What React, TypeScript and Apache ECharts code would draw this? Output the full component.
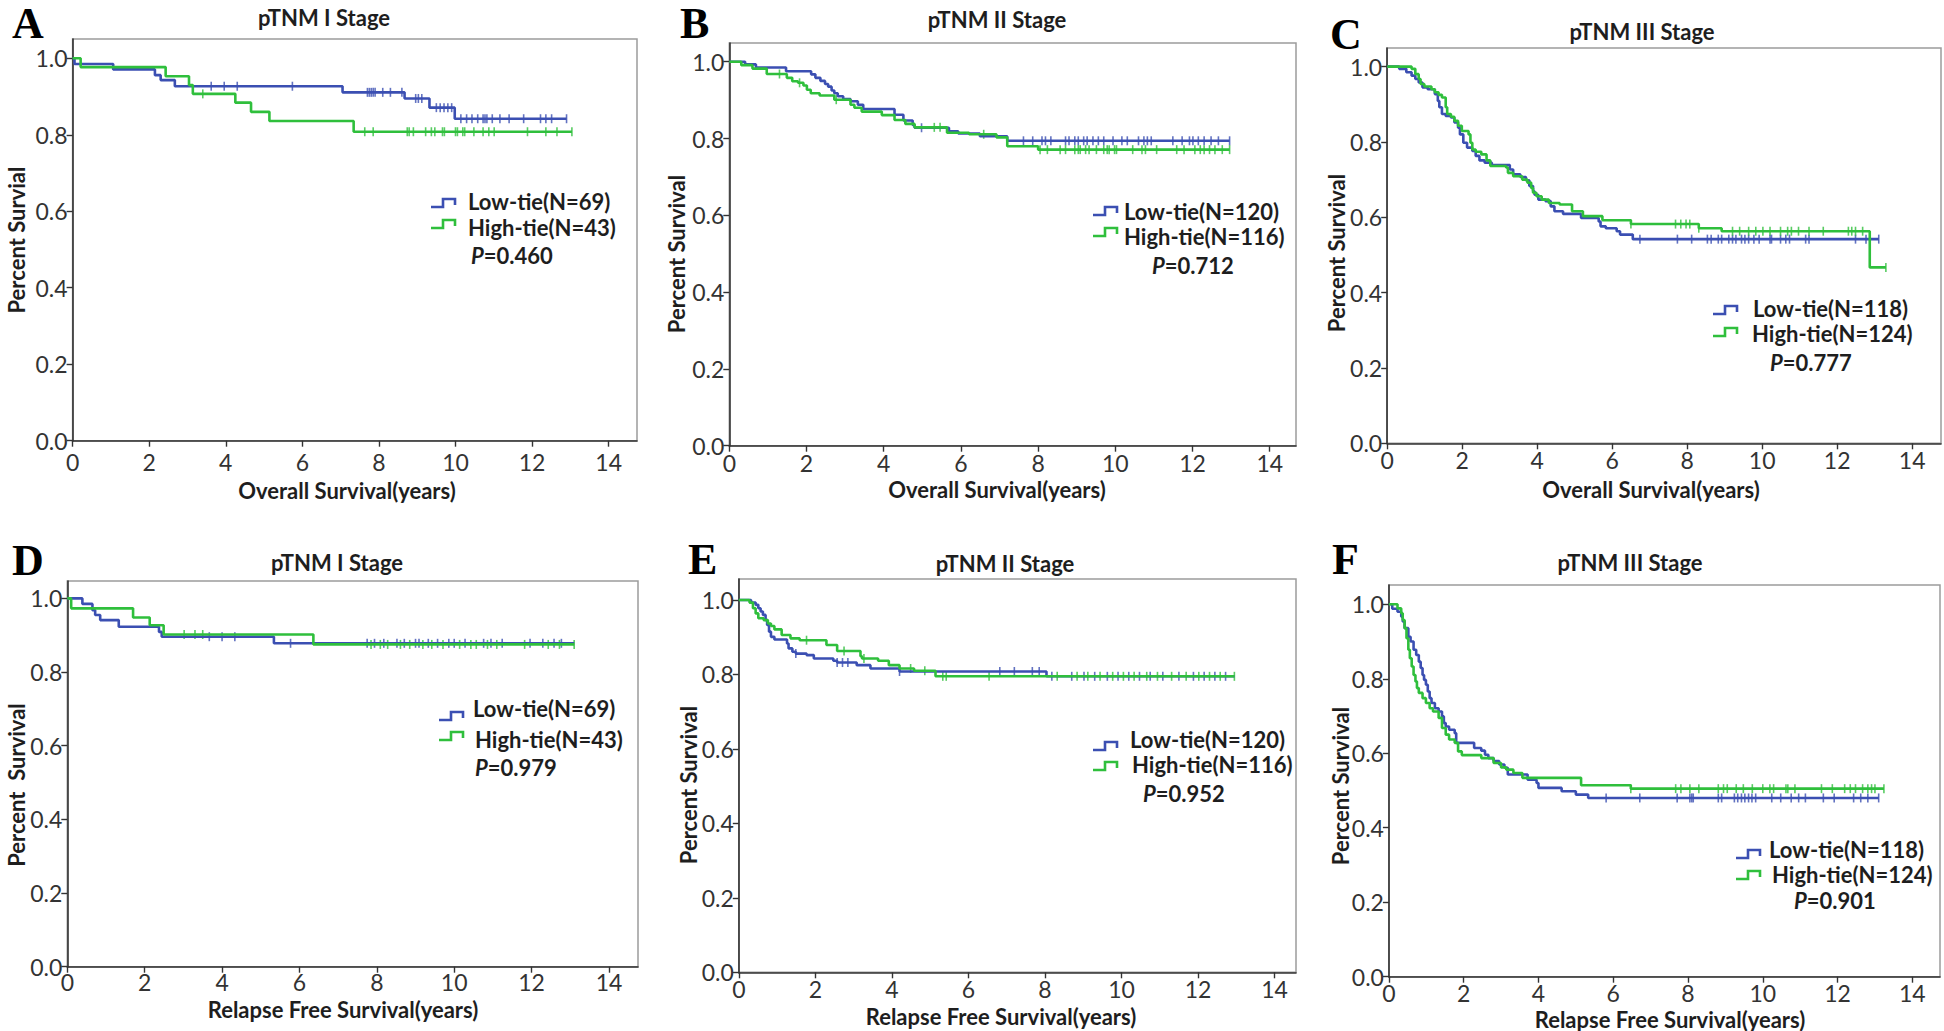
import React, { useEffect, useRef } from 'react';
import * as echarts from 'echarts';

// ---------- tick labels ----------
const xTicks = [0, 2, 4, 6, 8, 10, 12, 14];
const yTicks = [0, 0.2, 0.4, 0.6, 0.8, 1.0];

// ---------- texts ----------
const panelLetters = ['A', 'B', 'C', 'D', 'E', 'F'];
const panelTitles = ['pTNM I Stage', 'pTNM II Stage', 'pTNM III Stage', 'pTNM I Stage', 'pTNM II Stage', 'pTNM III Stage'];
const xTitles = ['Overall Survival(years)', 'Overall Survival(years)', 'Overall Survival(years)', 'Relapse Free Survival(years)', 'Relapse Free Survival(years)', 'Relapse Free Survival(years)'];
const yTitles = ['Percent Survial', 'Percent Survival', 'Percent Survival', 'Percent  Survival', 'Percent Survival', 'Percent Survival'];
const lowLabels = ['Low-tie(N=69)', 'Low-tie(N=120)', 'Low-tie(N=118)', 'Low-tie(N=69)', 'Low-tie(N=120)', 'Low-tie(N=118)'];
const highLabels = ['High-tie(N=43)', 'High-tie(N=116)', 'High-tie(N=124)', 'High-tie(N=43)', 'High-tie(N=116)', 'High-tie(N=124)'];
const pValues = ['0.460', '0.712', '0.777', '0.979', '0.952', '0.901'];

// ---------- Panel A ----------
const aLowT = [0, 0.05, 1.06, 2.15, 2.3, 2.67, 7.05, 8.67, 9.32, 9.98, 12.9];
const aLowS = [1, 0.985, 0.971, 0.956, 0.943, 0.927, 0.911, 0.895, 0.871, 0.842, 0.842];
const aLowC = [3.62, 3.96, 4.3, 5.74, 7.7, 7.75, 7.8, 7.85, 7.9, 8.1, 8.3, 8.6, 8.96, 9.03, 9.12, 9.5, 9.6, 9.7, 9.8, 9.9, 10.14, 10.29, 10.43, 10.58, 10.72, 10.77, 10.82, 10.96, 11.16, 11.4, 11.78, 12.22, 12.36, 12.51, 12.9];
const aHighT = [0, 0.21, 2.43, 3.04, 3.14, 4.25, 4.66, 5.14, 7.34, 13.04];
const aHighS = [1, 0.977, 0.953, 0.93, 0.907, 0.884, 0.86, 0.836, 0.808, 0.808];
const aHighC = [3.4, 7.63, 7.85, 8.74, 8.79, 8.9, 9.22, 9.37, 9.46, 9.66, 9.71, 10.0, 10.05, 10.19, 10.24, 10.48, 10.72, 10.87, 11.01, 11.88, 12.36, 12.65, 13.04];

// ---------- Panel B ----------
const bLowT = [0, 0.41, 0.69, 1.47, 2.12, 2.23, 2.36, 2.48, 2.56, 2.65, 2.72, 2.81, 2.95, 3.14, 3.33, 3.47, 4.28, 4.51, 4.75, 4.8, 5.69, 5.93, 6.49, 7.2, 12.96];
const bLowS = [1, 0.993, 0.985, 0.975, 0.967, 0.958, 0.95, 0.942, 0.935, 0.925, 0.918, 0.91, 0.903, 0.897, 0.888, 0.877, 0.862, 0.847, 0.835, 0.828, 0.819, 0.813, 0.806, 0.794, 0.794];
const bLowC = [4.98, 7.62, 7.86, 8.1, 8.19, 8.33, 8.71, 8.8, 8.95, 9.04, 9.18, 9.27, 9.42, 9.56, 9.7, 9.94, 10.17, 10.31, 10.6, 10.74, 10.83, 10.93, 11.49, 11.73, 11.92, 12.01, 12.15, 12.3, 12.48, 12.67, 12.96];
const bHighT = [0, 0.31, 0.6, 0.97, 1.49, 1.63, 1.78, 1.92, 2.01, 2.11, 2.34, 2.72, 3.14, 3.24, 3.43, 3.95, 4.28, 4.56, 4.8, 5.64, 6.21, 6.92, 7.2, 8.0, 12.96];
const bHighS = [1, 0.991, 0.982, 0.968, 0.958, 0.949, 0.945, 0.938, 0.927, 0.918, 0.912, 0.901, 0.888, 0.88, 0.87, 0.861, 0.848, 0.838, 0.829, 0.815, 0.811, 0.803, 0.78, 0.771, 0.771];
const bHighC = [1.3, 1.82, 2.77, 5.31, 5.46, 6.59, 8.05, 8.24, 8.57, 8.71, 8.95, 9.04, 9.09, 9.23, 9.32, 9.51, 9.7, 9.79, 9.84, 9.98, 10.03, 10.45, 10.69, 10.78, 11.07, 11.59, 11.78, 12.06, 12.2, 12.3, 12.44, 12.58, 12.77, 12.96];

// ---------- Panel C ----------
const cLowT = [0, 0.32, 0.51, 0.65, 0.75, 0.84, 0.94, 1.08, 1.27, 1.35, 1.39, 1.46, 1.56, 1.7, 1.79, 1.89, 1.94, 2.03, 2.13, 2.27, 2.36, 2.46, 2.6, 2.79, 3.27, 3.36, 3.55, 3.7, 3.79, 3.89, 3.93, 4.03, 4.22, 4.36, 4.46, 4.69, 5.17, 5.64, 5.69, 5.83, 6.12, 6.21, 6.55, 13.11];
const cLowS = [1, 0.994, 0.985, 0.976, 0.967, 0.958, 0.945, 0.94, 0.927, 0.909, 0.892, 0.874, 0.869, 0.865, 0.852, 0.838, 0.82, 0.798, 0.785, 0.776, 0.763, 0.751, 0.745, 0.739, 0.727, 0.714, 0.707, 0.698, 0.683, 0.669, 0.66, 0.647, 0.643, 0.629, 0.616, 0.609, 0.598, 0.589, 0.576, 0.571, 0.563, 0.554, 0.542, 0.542];
const cLowC = [6.74, 7.74, 8.12, 8.54, 8.64, 8.83, 8.92, 9.11, 9.21, 9.3, 9.45, 9.54, 9.64, 9.78, 9.92, 10.21, 10.25, 10.49, 10.63, 10.73, 11.16, 11.25, 12.49, 12.77, 13.11];
const cHighT = [0, 0.65, 0.75, 0.84, 0.89, 0.99, 1.18, 1.27, 1.37, 1.46, 1.56, 1.6, 1.7, 1.79, 1.89, 1.99, 2.17, 2.22, 2.27, 2.36, 2.51, 2.65, 2.75, 3.17, 3.22, 3.36, 3.6, 3.74, 3.84, 3.89, 3.98, 4.12, 4.31, 4.6, 4.93, 5.22, 5.74, 6.5, 8.31, 8.92, 12.87, 13.3];
const cHighS = [1, 0.994, 0.98, 0.967, 0.954, 0.947, 0.94, 0.932, 0.925, 0.918, 0.892, 0.874, 0.867, 0.856, 0.843, 0.829, 0.82, 0.798, 0.78, 0.774, 0.767, 0.751, 0.736, 0.732, 0.718, 0.709, 0.7, 0.692, 0.678, 0.665, 0.656, 0.647, 0.638, 0.634, 0.616, 0.603, 0.592, 0.582, 0.571, 0.563, 0.467, 0.467];
const cHighC = [6.5, 7.69, 7.83, 7.97, 8.07, 8.31, 9.21, 9.4, 9.64, 9.83, 10.02, 10.21, 10.49, 10.68, 10.78, 10.97, 11.25, 11.63, 12.3, 12.39, 12.49, 12.68, 13.3];

// ---------- Panel D ----------
const dLowT = [0, 0.39, 0.65, 0.72, 0.85, 1.33, 2.37, 2.44, 5.34, 13.1];
const dLowS = [1, 0.985, 0.968, 0.955, 0.941, 0.923, 0.909, 0.896, 0.878, 0.878];
const dLowC = [3.67, 4.0, 4.33, 5.77, 7.75, 7.94, 8.18, 8.52, 8.71, 9.0, 9.09, 9.33, 9.57, 9.86, 10.0, 10.28, 10.76, 10.95, 11.24, 11.96, 12.29, 12.58, 12.77];
const dHighT = [0, 0.1, 1.7, 2.13, 2.49, 6.36, 13.1];
const dHighS = [1, 0.973, 0.948, 0.927, 0.902, 0.875, 0.875];
const dHighC = [3.02, 3.3, 3.5, 7.85, 8.09, 8.28, 8.61, 8.85, 9.19, 9.42, 9.71, 10.14, 10.43, 10.57, 10.86, 11.1, 11.82, 12.43, 12.72, 13.1];

// ---------- Panel E ----------
const eLowT = [0, 0.32, 0.44, 0.51, 0.57, 0.63, 0.7, 0.74, 0.79, 0.84, 0.93, 1.26, 1.3, 1.4, 1.49, 1.77, 1.96, 2.47, 2.57, 3.08, 3.44, 4.2, 8.04, 12.95];
const eLowS = [1, 0.993, 0.987, 0.978, 0.969, 0.96, 0.946, 0.933, 0.915, 0.901, 0.894, 0.883, 0.87, 0.861, 0.856, 0.852, 0.843, 0.837, 0.832, 0.825, 0.816, 0.808, 0.795, 0.795];
const eLowC = [1.49, 2.57, 2.71, 2.85, 4.2, 6.82, 7.2, 7.67, 7.85, 8.18, 8.7, 9.02, 9.3, 9.63, 9.91, 10.19, 10.47, 10.75, 11.08, 11.5, 11.88, 12.16, 12.44, 12.72];
const eHighT = [0, 0.28, 0.37, 0.44, 0.51, 0.65, 0.76, 0.84, 0.93, 1.12, 1.35, 1.59, 2.29, 2.57, 3.18, 3.22, 3.64, 3.92, 4.2, 4.58, 5.14, 12.95];
const eHighS = [1, 0.993, 0.978, 0.964, 0.951, 0.946, 0.937, 0.93, 0.921, 0.906, 0.897, 0.892, 0.879, 0.863, 0.849, 0.843, 0.837, 0.825, 0.816, 0.81, 0.795, 0.795];
const eHighC = [1.77, 2.75, 3.27, 4.49, 4.86, 5.33, 5.42, 6.54, 8.32, 8.84, 9.12, 9.44, 9.77, 10.05, 10.33, 10.66, 10.94, 11.31, 11.69, 12.02, 12.3, 12.58, 12.95];

// ---------- Panel F ----------
const fLowT = [0, 0.09, 0.23, 0.33, 0.37, 0.42, 0.52, 0.58, 0.66, 0.73, 0.8, 0.85, 0.9, 0.94, 0.99, 1.04, 1.09, 1.14, 1.23, 1.33, 1.42, 1.47, 1.52, 1.61, 1.76, 1.8, 2.28, 2.47, 2.57, 2.66, 2.8, 2.95, 3.09, 3.18, 3.71, 3.95, 4.0, 4.62, 5.0, 5.33, 13.1];
const fLowS = [1, 0.988, 0.98, 0.967, 0.954, 0.936, 0.913, 0.9, 0.878, 0.864, 0.846, 0.829, 0.81, 0.797, 0.784, 0.766, 0.748, 0.735, 0.721, 0.712, 0.699, 0.681, 0.672, 0.663, 0.654, 0.628, 0.614, 0.607, 0.596, 0.587, 0.579, 0.57, 0.561, 0.543, 0.529, 0.52, 0.507, 0.498, 0.489, 0.48, 0.48];
const fLowC = [5.81, 6.71, 7.71, 8.05, 8.1, 8.14, 8.81, 8.9, 9.24, 9.33, 9.43, 9.52, 9.62, 9.71, 9.81, 10.24, 10.48, 10.76, 10.96, 11.14, 11.62, 11.91, 12.43, 12.62, 12.81, 13.1];
const fHighT = [0, 0.23, 0.33, 0.37, 0.42, 0.47, 0.52, 0.56, 0.61, 0.66, 0.71, 0.75, 0.8, 0.9, 0.99, 1.09, 1.18, 1.33, 1.42, 1.52, 1.61, 1.76, 1.85, 1.95, 2.47, 2.8, 3.0, 3.14, 3.33, 3.57, 5.14, 6.47, 13.24];
const fHighS = [1, 0.989, 0.976, 0.958, 0.936, 0.909, 0.878, 0.855, 0.833, 0.81, 0.793, 0.775, 0.762, 0.748, 0.735, 0.721, 0.712, 0.695, 0.668, 0.65, 0.637, 0.628, 0.605, 0.595, 0.587, 0.574, 0.562, 0.556, 0.547, 0.534, 0.514, 0.505, 0.505];
const fHighC = [6.47, 7.67, 7.81, 8.05, 8.29, 8.81, 8.95, 9.05, 9.29, 9.48, 9.72, 10.0, 10.19, 10.29, 10.62, 10.67, 10.86, 11.57, 11.86, 12.19, 12.34, 12.48, 12.67, 12.81, 12.91, 13.0, 13.24];

const panelData = [
  { lowT: aLowT, lowS: aLowS, lowC: aLowC, highT: aHighT, highS: aHighS, highC: aHighC },
  { lowT: bLowT, lowS: bLowS, lowC: bLowC, highT: bHighT, highS: bHighS, highC: bHighC },
  { lowT: cLowT, lowS: cLowS, lowC: cLowC, highT: cHighT, highS: cHighS, highC: cHighC },
  { lowT: dLowT, lowS: dLowS, lowC: dLowC, highT: dHighT, highS: dHighS, highC: dHighC },
  { lowT: eLowT, lowS: eLowS, lowC: eLowC, highT: eHighT, highS: eHighS, highC: eHighC },
  { lowT: fLowT, lowS: fLowS, lowC: fLowC, highT: fHighT, highS: fHighS, highC: fHighC },
];

// ---------- layout (positions only) ----------
const layouts = [
  { g: [72.6, 39, 564.4, 401.7], xMax: 14.74, yMax: 1.0505, xm: 10, letter: [12, 23], title: [324, 17], xt: [347, 490], yt: [16, 240], symX: 431, symY: [199, 220], lowTxt: [468, 201], highTxt: [468, 227], pTxt: [471, 255] },
  { g: [729.3, 43, 566.7, 402.7], xMax: 14.68, yMax: 1.0487, xm: 6, letter: [680, 23], title: [997, 19], xt: [997, 489], yt: [676, 254], symX: 1093, symY: [207, 228], lowTxt: [1124, 211], highTxt: [1124, 236], pTxt: [1152, 265] },
  { g: [1387.2, 48, 553.8, 395.3], xMax: 14.77, yMax: 1.0494, xm: 5, letter: [1330, 34], title: [1642, 31], xt: [1651, 489], yt: [1336, 253], symX: 1713, symY: [306, 328], lowTxt: [1753, 308.5], highTxt: [1752, 333.5], pTxt: [1770, 362] },
  { g: [67.3, 581, 570.7, 385.7], xMax: 14.75, yMax: 1.0472, xm: 4, letter: [12, 560], title: [337, 562], xt: [343, 1009], yt: [16, 785], symX: 439, symY: [712, 732], lowTxt: [473, 708], highTxt: [475, 739], pTxt: [475, 767] },
  { g: [738.8, 579, 557.2, 393.3], xMax: 14.56, yMax: 1.0564, xm: 5, letter: [688, 559], title: [1005, 563], xt: [1001, 1016], yt: [688, 785], symX: 1093, symY: [742, 762], lowTxt: [1130, 739], highTxt: [1132, 764], pTxt: [1143, 793] },
  { g: [1388.9, 585, 551.1, 391.7], xMax: 14.74, yMax: 1.0518, xm: 5, letter: [1332, 559], title: [1630, 562], xt: [1670, 1019], yt: [1340, 786], symX: 1736, symY: [850, 871], lowTxt: [1769, 849.5], highTxt: [1772, 874.5], pTxt: [1794, 900] },
];

const BLUE = '#3b4fb2';
const GREEN = '#2fbf3c';
const FONT = 'Lato, "DejaVu Sans", sans-serif';
const TXT = '#1e1e1e';

function survAt(ts: number[], ss: number[], t: number): number {
  let v = ss[0];
  for (let i = 0; i < ts.length; i++) {
    if (ts[i] <= t) v = ss[i];
    else break;
  }
  return v;
}

function buildOption() {
  const grid = layouts.map((l) => ({
    left: l.g[0], top: l.g[1], width: l.g[2], height: l.g[3],
    show: true, borderColor: '#9c9c9c', borderWidth: 1.5, containLabel: false,
  }));
  const xAxis = layouts.map((l, i) => ({
    type: 'value', gridIndex: i, min: 0, max: l.xMax, interval: 2,
    axisLine: { show: true, onZero: false, lineStyle: { color: '#333', width: 1.6 } },
    axisTick: { show: true, length: 6, customValues: xTicks, lineStyle: { color: '#333', width: 1.4 } },
    axisLabel: { customValues: xTicks, margin: l.xm, fontSize: 23, color: '#333', fontFamily: FONT },
    splitLine: { show: false },
  }));
  const yAxis = layouts.map((l, i) => ({
    type: 'value', gridIndex: i, min: 0, max: l.yMax, interval: 0.2,
    axisLine: { show: true, onZero: false, lineStyle: { color: '#333', width: 1.6 } },
    axisTick: { show: true, length: 6, customValues: yTicks, lineStyle: { color: '#333', width: 1.4 } },
    axisLabel: { customValues: yTicks, margin: 5, fontSize: 23, color: '#333', fontFamily: FONT, formatter: (v: number) => v.toFixed(1) },
    splitLine: { show: false },
  }));

  const series: any[] = [];
  panelData.forEach((p, i) => {
    const groups: [number[], number[], number[], string, string][] = [
      [p.lowT, p.lowS, p.lowC, BLUE, lowLabels[i]],
      [p.highT, p.highS, p.highC, GREEN, highLabels[i]],
    ];
    groups.forEach(([T, S, C, color, name]) => {
      series.push({
        name, type: 'line', xAxisIndex: i, yAxisIndex: i, step: 'end',
        showSymbol: false, symbol: 'none', silent: true,
        data: T.map((t, k) => [t, S[k]]),
        lineStyle: { color, width: 2.6 }, itemStyle: { color },
      });
      series.push({
        name: name + ' censored', type: 'scatter', xAxisIndex: i, yAxisIndex: i,
        symbol: 'rect', symbolSize: [1.6, 9], silent: true,
        data: C.map((t) => [t, survAt(T, S, t)]),
        itemStyle: { color },
      });
    });
  });

  const graphic: any[] = [];
  layouts.forEach((l, i) => {
    graphic.push({ type: 'text', x: l.letter[0], y: l.letter[1], silent: true,
      style: { text: panelLetters[i], fontFamily: '"Liberation Serif", "Times New Roman", serif', fontWeight: 'bold', fontSize: 44, lineHeight: 34, fill: '#000', align: 'left', verticalAlign: 'middle' } });
    graphic.push({ type: 'text', x: l.title[0], y: l.title[1], silent: true,
      style: { text: panelTitles[i], fontFamily: FONT, fontWeight: 'bold', fontSize: 22, fill: TXT, align: 'center', verticalAlign: 'middle' } });
    graphic.push({ type: 'text', x: l.xt[0], y: l.xt[1], silent: true,
      style: { text: xTitles[i], fontFamily: FONT, fontWeight: 'bold', fontSize: 22, fill: TXT, align: 'center', verticalAlign: 'middle' } });
    graphic.push({ type: 'text', x: l.yt[0], y: l.yt[1], rotation: Math.PI / 2, silent: true,
      style: { text: yTitles[i], fontFamily: FONT, fontWeight: 'bold', fontSize: 22, fill: TXT, align: 'center', verticalAlign: 'middle' } });
    const sx = l.symX;
    [[l.symY[0], BLUE], [l.symY[1], GREEN]].forEach(([sy, color]: any) => {
      graphic.push({ type: 'polyline', silent: true,
        shape: { points: [[sx, sy + 8], [sx + 12, sy + 8], [sx + 12, sy], [sx + 24, sy], [sx + 24, sy + 6]] },
        style: { stroke: color, lineWidth: 2.6, fill: null } });
    });
    graphic.push({ type: 'text', x: l.lowTxt[0], y: l.lowTxt[1], silent: true,
      style: { text: lowLabels[i], fontFamily: FONT, fontWeight: 'bold', fontSize: 22, lineHeight: 19, fill: TXT, align: 'left', verticalAlign: 'middle' } });
    graphic.push({ type: 'text', x: l.highTxt[0], y: l.highTxt[1], silent: true,
      style: { text: highLabels[i], fontFamily: FONT, fontWeight: 'bold', fontSize: 22, lineHeight: 19, fill: TXT, align: 'left', verticalAlign: 'middle' } });
    graphic.push({ type: 'text', x: l.pTxt[0], y: l.pTxt[1], silent: true,
      style: {
        text: '{i|P}{n|=' + pValues[i] + '}', align: 'left', verticalAlign: 'middle',
        fontFamily: FONT, fontWeight: 'bold', fontSize: 22, lineHeight: 19, fill: TXT,
        rich: {
          i: { fontFamily: FONT, fontWeight: 'bold', fontStyle: 'italic', fontSize: 22, lineHeight: 19, fill: TXT },
          n: { fontFamily: FONT, fontWeight: 'bold', fontSize: 22, lineHeight: 19, fill: TXT },
        },
      } });
  });

  return {
    animation: false,
    backgroundColor: '#ffffff',
    grid, xAxis, yAxis, series, graphic,
  };
}

export default function App() {
  const ref = useRef<HTMLDivElement>(null);
  useEffect(() => {
    if (!ref.current) return;
    const chart = echarts.init(ref.current, null, { renderer: 'svg' });
    chart.setOption(buildOption() as any);
    return () => chart.dispose();
  }, []);
  return (
    <div
      ref={ref}
      style={{ position: 'fixed', left: 0, top: 0, width: 1944, height: 1031, background: '#fff' }}
    />
  );
}
